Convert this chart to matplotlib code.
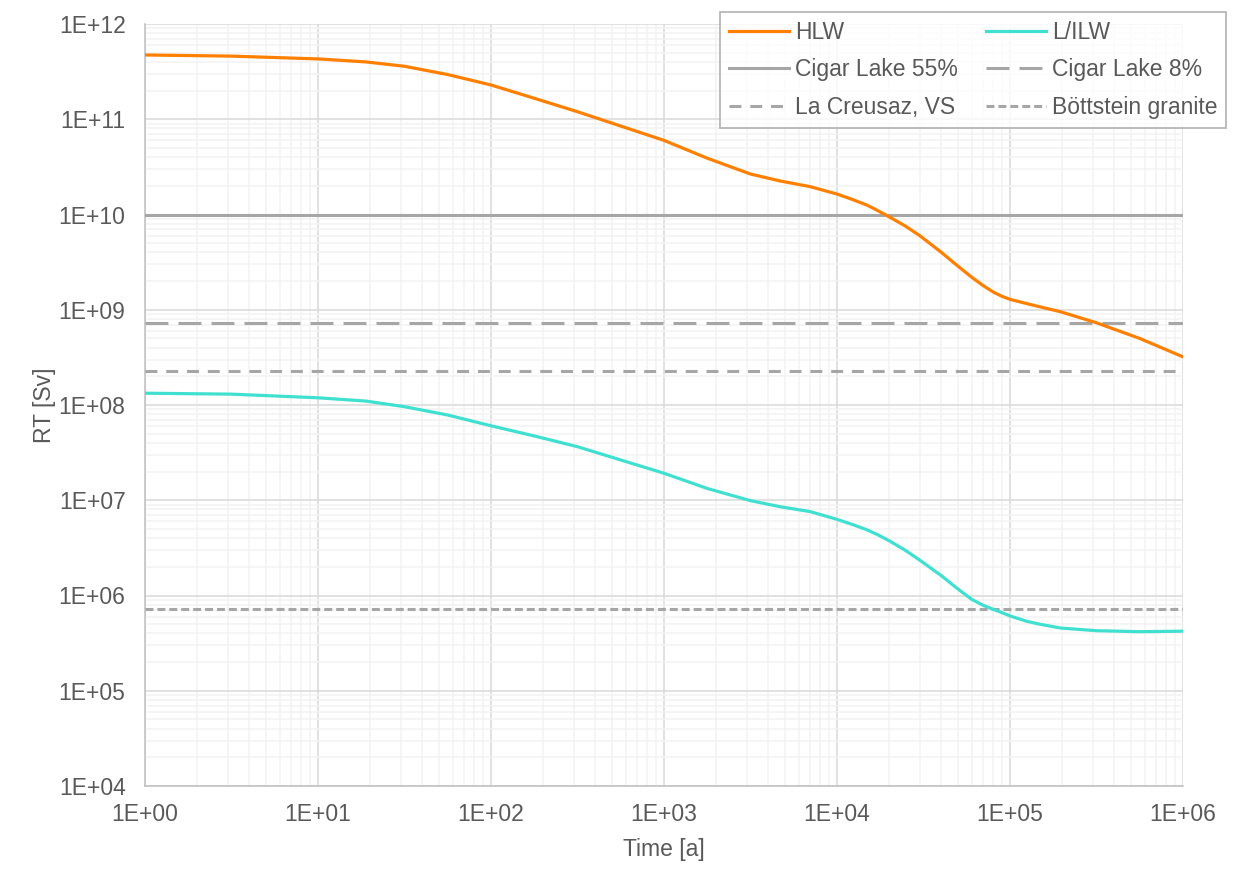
import numpy as np
import matplotlib.pyplot as plt
from matplotlib.ticker import FuncFormatter, FixedLocator, NullFormatter

plt.rcParams['font.family'] = ['Liberation Sans', 'DejaVu Sans']

# Данные
time_hlw = [1, 3.16, 10, 18.9, 31.6, 56, 100, 178, 316, 1000, 1778, 3162, 4690,
            7000, 1e4, 1.22e4, 1.5e4, 1.73e4, 2e4, 2.47e4, 3e4, 4e4, 5e4, 6e4,
            7e4, 8e4, 9e4, 1e5, 1.25e5, 1.5e5, 1.95e5, 3.16e5, 5.62e5, 1e6]
rt_hlw = [4.73e11, 4.6e11, 4.30e11, 4.0e11, 3.6e11, 2.95e11, 2.29e11, 1.66e11,
          1.2e11, 6.0e10, 3.9e10, 2.66e10, 2.25e10, 1.96e10, 1.64e10, 1.444e10,
          1.249e10, 1.093e10, 9.46e9, 7.61e9, 6.02e9, 4.02e9, 2.87e9, 2.2e9,
          1.79e9, 1.536e9, 1.381e9, 1.287e9, 1.16e9, 1.07e9, 9.55e8, 7.3e8,
          5.0e8, 3.2e8]

time_lilw = [1, 3.16, 10, 18.9, 31.6, 56, 100, 178, 316, 1000, 1778, 3162, 4690,
             7000, 1e4, 1.22e4, 1.5e4, 1.73e4, 2e4, 2.47e4, 3e4, 4e4, 5e4, 6e4,
             7e4, 8e4, 9e4, 1e5, 1.25e5, 1.5e5, 1.95e5, 3.16e5, 5.62e5, 1e6]
rt_lilw = [1.33e8, 1.3e8, 1.19e8, 1.1e8, 9.6e7, 7.86e7, 6.05e7, 4.73e7, 3.65e7,
           1.92e7, 1.33e7, 9.9e6, 8.55e6, 7.6e6, 6.3e6, 5.59e6, 4.87e6, 4.32e6,
           3.76e6, 3.0e6, 2.36e6, 1.62e6, 1.17e6, 9.12e5, 7.89e5, 7.16e5, 6.6e5,
           6.1e5, 5.36e5, 4.98e5, 4.56e5, 4.27e5, 4.17e5, 4.22e5]

ref_names = ['Cigar Lake 55%', 'Cigar Lake 8%', 'La Creusaz, VS', 'Böttstein granite']
ref_values = [1.0e10, 7.26e8, 2.27e8, 7.2e5]

x_decades = [10.0 ** k for k in range(0, 7)]
y_decades = [10.0 ** k for k in range(4, 13)]

GRAY = '#A6A6A6'
TEXT = '#595959'
FS = 16.5
styles = [(None, None), (0, (7.5, 3.3)), (0, (3.9, 2.9)), (0, (2.6, 1.3))]

fig = plt.figure(figsize=(12.4, 8.86), dpi=100)
ax = fig.add_axes([145 / 1240, 100 / 886, 1038 / 1240, 762 / 886])

ax.plot(time_hlw, rt_hlw, color='#FF8000', lw=2.3, label='HLW', zorder=5,
        solid_joinstyle='round')
ax.plot(time_lilw, rt_lilw, color='#40E0D0', lw=2.3, label='L/ILW', zorder=5,
        solid_joinstyle='round')
for name, val, st in zip(ref_names, ref_values, styles):
    if st[0] is None:
        ax.axhline(val, color=GRAY, lw=2.2, label=name, zorder=4)
    else:
        ax.axhline(val, color=GRAY, lw=2.2, ls=st, label=name, zorder=4)

ax.set_xscale('log')
ax.set_yscale('log')
ax.set_xlim(1, 1e6)
ax.set_ylim(1e4, 1e12)

# только декады внутри осей, плюс промежуточные линии сетки
x_minor = [d * m for d in x_decades[:-1] for m in range(2, 10)]
y_minor = [d * m for d in y_decades[:-1] for m in range(2, 10)]
ax.xaxis.set_major_locator(FixedLocator(x_decades))
ax.yaxis.set_major_locator(FixedLocator(y_decades))
ax.xaxis.set_minor_locator(FixedLocator(x_minor))
ax.yaxis.set_minor_locator(FixedLocator(y_minor))
fmt = FuncFormatter(lambda v, p: '1E+%02d' % round(np.log10(v)))
ax.xaxis.set_major_formatter(fmt)
ax.yaxis.set_major_formatter(fmt)
ax.xaxis.set_minor_formatter(NullFormatter())
ax.yaxis.set_minor_formatter(NullFormatter())

ax.grid(True, which='major', color='#D9D9D9', lw=1.1, zorder=1)
ax.grid(True, which='minor', color='#F2F2F2', lw=1.1, zorder=0)
ax.set_axisbelow(True)
ax.tick_params(which='both', length=0, labelsize=FS, labelcolor=TEXT)
ax.tick_params(axis='x', pad=12)
ax.tick_params(axis='y', pad=14)

for s in ['top', 'right']:
    ax.spines[s].set_visible(False)
for s in ['left', 'bottom']:
    ax.spines[s].set_color('#BFBFBF')
    ax.spines[s].set_linewidth(1.1)

ax.set_xlabel('Time [a]', fontsize=FS, color=TEXT, labelpad=9)
ax.set_ylabel('RT [Sv]', fontsize=FS, color=TEXT, labelpad=2)

# Легенда в две колонки
handles, labels = ax.get_legend_handles_labels()
order = [0, 2, 4, 1, 3, 5]
leg = fig.legend([handles[i] for i in order], [labels[i] for i in order],
                 ncol=2, loc='upper left', bbox_to_anchor=(720 / 1240, 1 - 12 / 886),
                 frameon=True, fancybox=False, edgecolor=GRAY, fontsize=FS,
                 handlelength=2.6, handletextpad=0.26, columnspacing=1.25,
                 labelspacing=0.62, borderpad=0.4, borderaxespad=0)
leg.get_frame().set_linewidth(1.3)
for t in leg.get_texts():
    t.set_color(TEXT)

fig.savefig('out.png', dpi=100)
